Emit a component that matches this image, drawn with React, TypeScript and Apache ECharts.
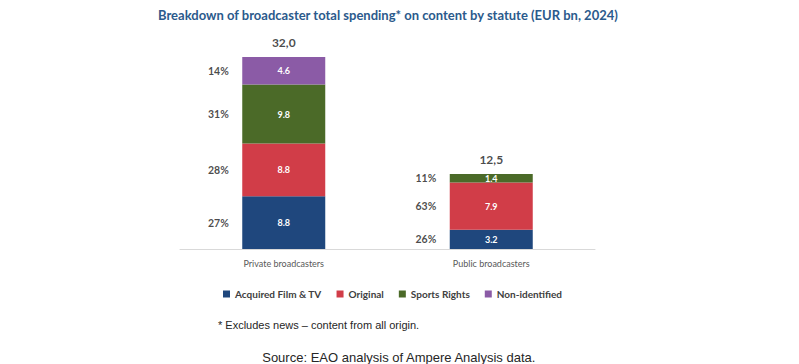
import React, { useEffect, useRef } from "react";
import * as echarts from "echarts";

const categories = ["Private broadcasters", "Public broadcasters"];
const seriesNames = ["Acquired Film & TV", "Original", "Sports Rights", "Non-identified"];
const acquired = [8.8, 3.2];
const original = [8.8, 7.9];
const sports = [9.8, 1.4];
const nonIdentified = [4.6, 0];
const totals = [32.0, 12.5];
const shareLabels = [
  ["27%", "28%", "31%", "14%"],
  ["26%", "63%", "11%", ""],
];
const colors = ["#1F477D", "#D13D48", "#4B6A28", "#8B5BA6"];

export default function App() {
  const ref = useRef<HTMLDivElement>(null);
  useEffect(() => {
    document.body.style.margin = "0";
    if (!ref.current) return;
    const chart = echarts.init(ref.current, undefined, { renderer: "svg" });
    const values = [acquired, original, sports, nonIdentified];
    const barSeries = values.map((arr, i) => ({
      name: seriesNames[i],
      type: "bar",
      stack: "total",
      barWidth: 83,
      data: arr,
      itemStyle: { color: colors[i] },
      label: {
        show: true,
        position: "inside",
        color: "#ffffff",
        fontFamily: "Lato",
        fontWeight: "bold",
        fontSize: 9,
        formatter: (p: any) => (p.value > 0 ? p.value.toFixed(1) : ""),
      },
    }));
    const shareData: any[] = [];
    categories.forEach((c, ci) => {
      let cum = 0;
      values.forEach((arr, si) => {
        const v = arr[ci];
        if (v > 0) {
          shareData.push({ value: [ci, cum + v / 2], lbl: shareLabels[ci][si] });
        }
        cum += v;
      });
    });
    chart.setOption({
      animation: false,
      title: {
        text: "Breakdown of broadcaster total spending* on content by statute (EUR bn, 2024)",
        left: 153,
        top: 3,
        textStyle: { fontFamily: "Lato", fontWeight: "bold", fontSize: 13, color: "#2B5A8C" },
      },
      legend: {
        data: seriesNames,
        top: 284,
        left: 218,
        itemWidth: 7,
        itemHeight: 7,
        itemGap: 15,
        icon: "rect",
        textStyle: { fontFamily: "Lato", fontWeight: "bold", fontSize: 10, color: "#404040" },
      },
      grid: { left: 180, right: 204, top: 39, bottom: 115 },
      xAxis: {
        type: "category",
        data: categories,
        axisLine: { lineStyle: { color: "#D9D9D9", width: 1 } },
        axisTick: { show: false },
        axisLabel: { fontFamily: "Lato", fontSize: 9, color: "#595959", margin: 10 },
      },
      yAxis: { type: "value", min: 0, max: 35, show: false },
      series: [
        ...barSeries,
        {
          type: "scatter",
          symbolSize: 0,
          data: shareData,
          silent: true,
          label: {
            show: true,
            position: "left",
            distance: 55,
            fontFamily: "Lato",
            fontWeight: "bold",
            fontSize: 10.5,
            color: "#1A1A1A",
            formatter: (p: any) => p.data.lbl,
          },
        },
        {
          type: "scatter",
          symbolSize: 0,
          data: totals.map((t, i) => [i, t]),
          silent: true,
          label: {
            show: true,
            position: "top",
            distance: 9,
            fontFamily: "Lato",
            fontWeight: "bold",
            fontSize: 12,
            color: "#1A1A1A",
            formatter: (p: any) => p.value[1].toFixed(1).replace(".", ","),
          },
        },
      ],
      graphic: [
        {
          type: "text",
          left: 218,
          top: 319,
          style: { text: "* Excludes news \u2013 content from all origin.", fontFamily: "Liberation Sans", fontSize: 11, fill: "#262626" },
        },
        {
          type: "text",
          left: "center",
          top: 350,
          style: { text: "Source: EAO analysis of Ampere Analysis data.", fontFamily: "Liberation Sans", fontSize: 13, lineHeight: 14, fill: "#262626" },
        },
      ],
    });
    return () => chart.dispose();
  }, []);
  return <div ref={ref} style={{ width: 799, height: 364 }} />;
}
